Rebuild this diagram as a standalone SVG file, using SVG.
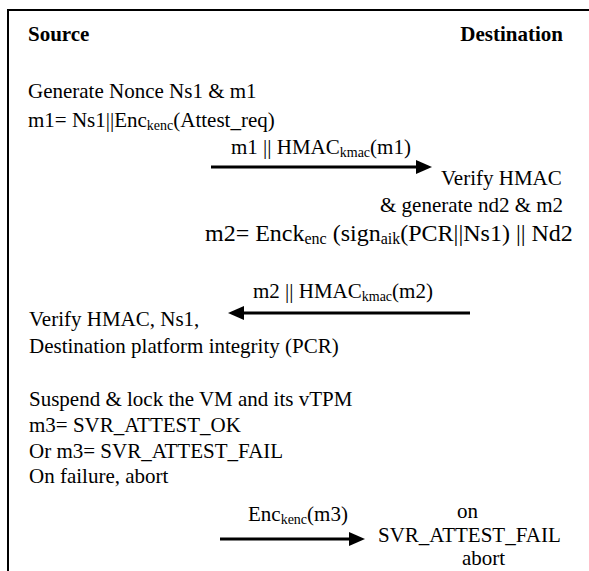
<svg xmlns="http://www.w3.org/2000/svg" width="589" height="571" viewBox="0 0 589 571">
<defs>
<style>
text{font-family:'Liberation Serif',Tinos,'Times New Roman',Times,serif;font-size:21px;fill:#000}
.b{font-weight:bold}
.sub{font-size:14px}
.big{font-size:24px}
.bigsub{font-size:16px}
.frame{fill:none;stroke:#000;stroke-width:2}
.arr{fill:none;stroke:#000;stroke-width:3}
</style>
<marker id="ah" markerUnits="userSpaceOnUse" markerWidth="16" markerHeight="14" viewBox="0 0 16 14" refX="0" refY="7" orient="auto">
<path d="M0,0 L16,7 L0,14 z" fill="#000"/>
</marker>
</defs>
<rect width="589" height="571" fill="#fff"/>
<path class="frame" d="M8,571 V10 H589"/>
<g id="source-header"><text class="b" x="28" y="41">Source</text></g>
<g id="dest-header"><text class="b" x="563" y="41" text-anchor="end">Destination</text></g>
<g id="source-step1">
<text x="28" y="98">Generate Nonce Ns1 &amp; m1</text>
<text x="28" y="127">m1= Ns1||Enc<tspan class="sub" dy="3">kenc</tspan><tspan dy="-3">(Attest_req)</tspan></text>
</g>
<g id="dest-step1">
<text x="441" y="185">Verify HMAC</text>
<text x="380" y="212">&amp; generate nd2 &amp; m2</text>
<text class="big" x="205" y="241">m2= Enck<tspan class="bigsub" dy="3">enc</tspan><tspan dy="-3"> (sign</tspan><tspan class="bigsub" dy="3">aik</tspan><tspan dy="-3">(PCR||Ns1) || Nd2</tspan></text>
</g>
<g id="source-step2">
<text x="29" y="326">Verify HMAC, Ns1,</text>
<text x="29" y="353">Destination platform integrity (PCR)</text>
<text x="29" y="406">Suspend &amp; lock the VM and its vTPM</text>
<text x="29" y="432">m3= SVR_ATTEST_OK</text>
<text x="29" y="458">Or m3= SVR_ATTEST_FAIL</text>
<text x="29" y="483">On failure, abort</text>
</g>
<g id="dest-step2">
<text x="457" y="518">on</text>
<text x="378" y="541.5">SVR_ATTEST_FAIL</text>
<text x="462" y="565">abort</text>
</g>
<g id="connectors">
<path class="arr" d="M211,167 H416" marker-end="url(#ah)"/>
<text x="231" y="154">m1 || HMAC<tspan class="sub" dy="3">kmac</tspan><tspan dy="-3">(m1)</tspan></text>
<path class="arr" d="M470,313 H244" marker-end="url(#ah)"/>
<text x="253" y="298">m2 || HMAC<tspan class="sub" dy="3">kmac</tspan><tspan dy="-3">(m2)</tspan></text>
<path class="arr" d="M220,539 H349" marker-end="url(#ah)"/>
<text x="248" y="521">Enc<tspan class="sub" dy="3">kenc</tspan><tspan dy="-3">(m3)</tspan></text>
</g>
</svg>
